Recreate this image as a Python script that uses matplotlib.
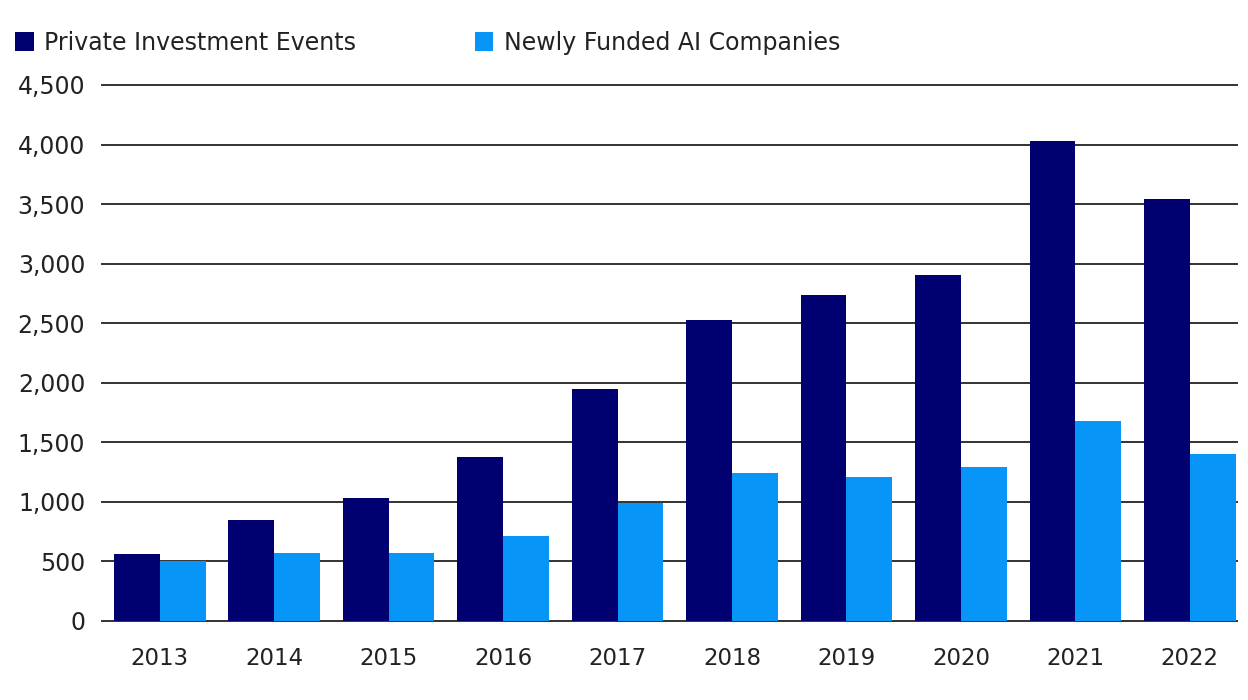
import numpy as np
import matplotlib
matplotlib.use("Agg")
import matplotlib.pyplot as plt
from matplotlib.ticker import FuncFormatter

years = ["2013", "2014", "2015", "2016", "2017", "2018", "2019", "2020", "2021", "2022"]
investment_events = [560, 850, 1030, 1377, 1946, 2523, 2733, 2902, 4026, 3541]
new_companies = [500, 570, 570, 715, 990, 1242, 1209, 1295, 1674, 1400]

dark = "#000070"
light = "#0796F8"
text_color = "#222222"

plt.rcParams["font.family"] = ["DejaVu Sans"]

fig = plt.figure(figsize=(12.48, 7), dpi=100)
ax = fig.add_axes([0.0817, 0.1133, 0.9093, 0.7653])

x = np.arange(len(years))
w = 0.4
ax.bar(x - w / 2, investment_events, w, color=dark, label="Private Investment Events", zorder=3)
ax.bar(x + w / 2, new_companies, w, color=light, label="Newly Funded AI Companies", zorder=3)

ax.set_ylim(0, 4500)
ax.set_xlim(-0.505, 9.41)
ax.set_yticks(np.arange(0, 4501, 500))
ax.yaxis.set_major_formatter(FuncFormatter(lambda v, p: f"{int(v):,}"))
ax.set_xticks(x)
ax.set_xticklabels(years)

ax.grid(axis="y", color="#333333", linewidth=1.4, zorder=1)
for gl in ax.get_ygridlines():
    gl.set_clip_on(False)
for s in ax.spines.values():
    s.set_visible(False)
ax.tick_params(axis="both", length=0, labelsize=16.5, colors=text_color)
ax.tick_params(axis="y", pad=12, labelsize=17)
ax.tick_params(axis="x", pad=19)

fig.legend(loc="center left", bbox_to_anchor=(0.012, 0.939), ncol=2, frameon=False,
           borderaxespad=0, borderpad=0,
           prop={"size": 17}, handlelength=0.8, handleheight=0.8,
           handletextpad=0.45, columnspacing=5.0, labelcolor=text_color)

fig.savefig("out.png", dpi=100)
